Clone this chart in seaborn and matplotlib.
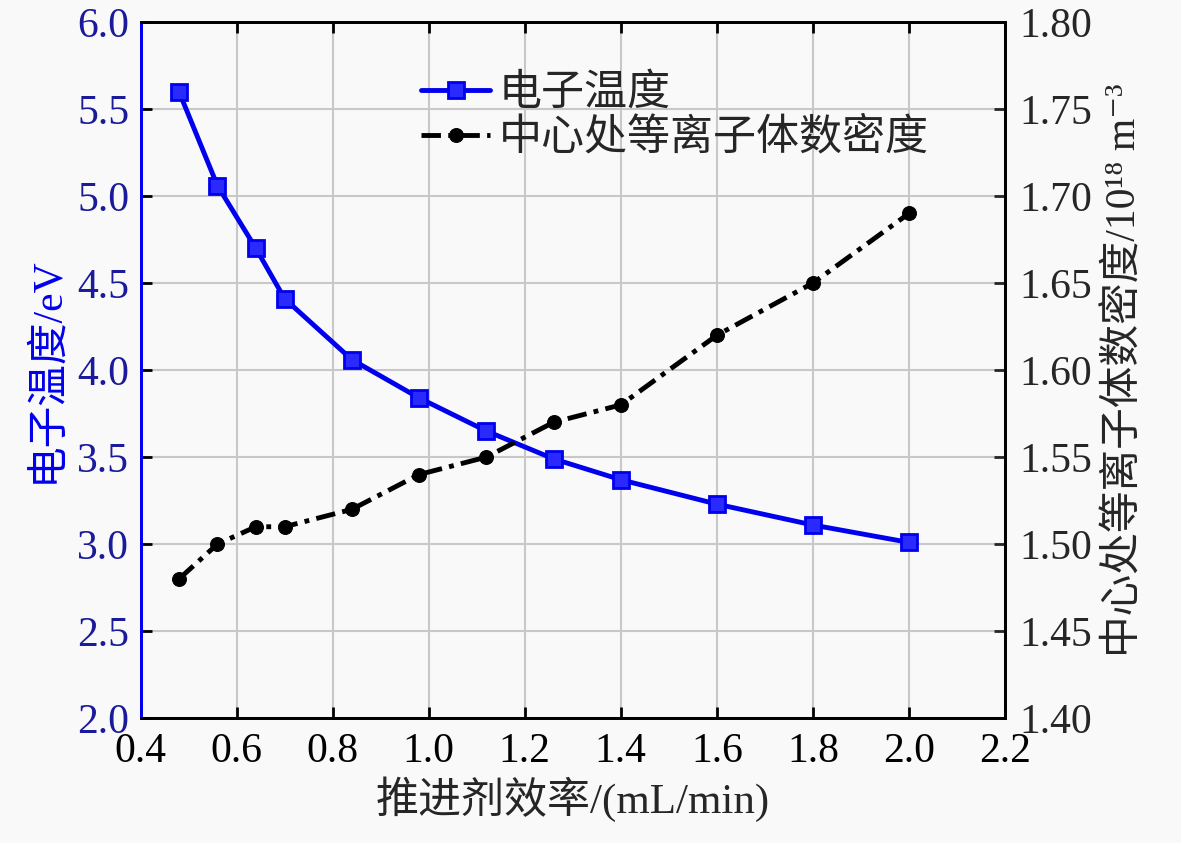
import pandas as pd
import matplotlib
matplotlib.use("Agg")
import matplotlib.pyplot as plt
import seaborn as sns

# data
flow_rate = [0.48, 0.56, 0.64, 0.70, 0.84, 0.98, 1.12, 1.26, 1.40, 1.60, 1.80, 2.00]
electron_temp = [5.60, 5.06, 4.70, 4.41, 4.06, 3.84, 3.65, 3.49, 3.37, 3.23, 3.11, 3.01]
ion_density = [1.48, 1.50, 1.51, 1.51, 1.52, 1.54, 1.55, 1.57, 1.58, 1.62, 1.65, 1.69]

x_ticks = [0.4, 0.6, 0.8, 1.0, 1.2, 1.4, 1.6, 1.8, 2.0, 2.2]
left_ticks = [2.0, 2.5, 3.0, 3.5, 4.0, 4.5, 5.0, 5.5, 6.0]
right_ticks = [1.40, 1.45, 1.50, 1.55, 1.60, 1.65, 1.70, 1.75, 1.80]

df = pd.DataFrame({"flow": flow_rate, "te": electron_temp, "ne": ion_density})

sns.set_style("ticks")
plt.rcParams['font.family'] = ['Liberation Serif', 'Noto Sans CJK SC', 'DejaVu Serif']
plt.rcParams['axes.unicode_minus'] = False

blue = '#0000ee'
tick_blue = '#1a1a9a'
bg = '#f9f9f9'

fig = plt.figure(figsize=(11.81, 8.43), dpi=100, facecolor=bg)
ax = fig.add_axes([0.119, 0.148, 0.732, 0.826])
ax.set_facecolor(bg)
ax2 = ax.twinx()

ax.grid(True, color='#c8c8c8', linewidth=1.5)
ax.set_axisbelow(True)

sns.lineplot(data=df, x="flow", y="te", ax=ax, color=blue, linewidth=3.5,
             marker='s', markersize=11, markerfacecolor='#2a2aff',
             markeredgecolor=blue, markeredgewidth=2, label='电子温度', legend=False)
sns.lineplot(data=df, x="flow", y="ne", ax=ax2, color='black', linewidth=3.5,
             linestyle=(0, (4, 1.5, 1, 1.5)), marker='o', markersize=10,
             markerfacecolor='black', markeredgecolor='black',
             label='中心处等离子体数密度', legend=False)

ax.set_xlim(0.4, 2.2)
ax.set_ylim(2.0, 6.0)
ax2.set_ylim(1.40, 1.80)
ax.set_xticks(x_ticks)
ax.set_xticklabels([f"{v:.1f}" for v in x_ticks])
ax.set_yticks(left_ticks)
ax.set_yticklabels([f"{v:.1f}" for v in left_ticks])
ax2.set_yticks(right_ticks)
ax2.set_yticklabels([f"{v:.2f}" for v in right_ticks])

ax.tick_params(axis='x', direction='in', length=8, width=2, labelsize=30, pad=10,
               top=True, colors='black')
ax.tick_params(axis='y', direction='in', length=8, width=2, labelsize=30, pad=8,
               colors='black', labelcolor=tick_blue)
ax2.tick_params(axis='y', direction='in', length=8, width=2, labelsize=30, pad=10)

for a in (ax, ax2):
    for side in ['top', 'bottom', 'right']:
        a.spines[side].set_color('black')
        a.spines[side].set_linewidth(2)
    a.spines['left'].set_color(blue)
    a.spines['left'].set_linewidth(2)

ax.set_xlabel('推进剂效率/(mL/min)', fontsize=31, labelpad=4)
ax.set_ylabel('电子温度/eV', fontsize=30, color=blue, labelpad=8)
ax2.set_ylabel('中心处等离子体数密度/10¹⁸ m⁻³', fontsize=30, labelpad=10)

h1, lab1 = ax.get_legend_handles_labels()
h2, lab2 = ax2.get_legend_handles_labels()
ax2.legend(h1 + h2, lab1 + lab2, loc='upper left', bbox_to_anchor=(0.305, 0.95),
           frameon=False, fontsize=31, handlelength=1.6, handletextpad=0.2,
           labelspacing=0.1, borderaxespad=0)

fig.savefig("out.png", dpi=100, facecolor=bg)
